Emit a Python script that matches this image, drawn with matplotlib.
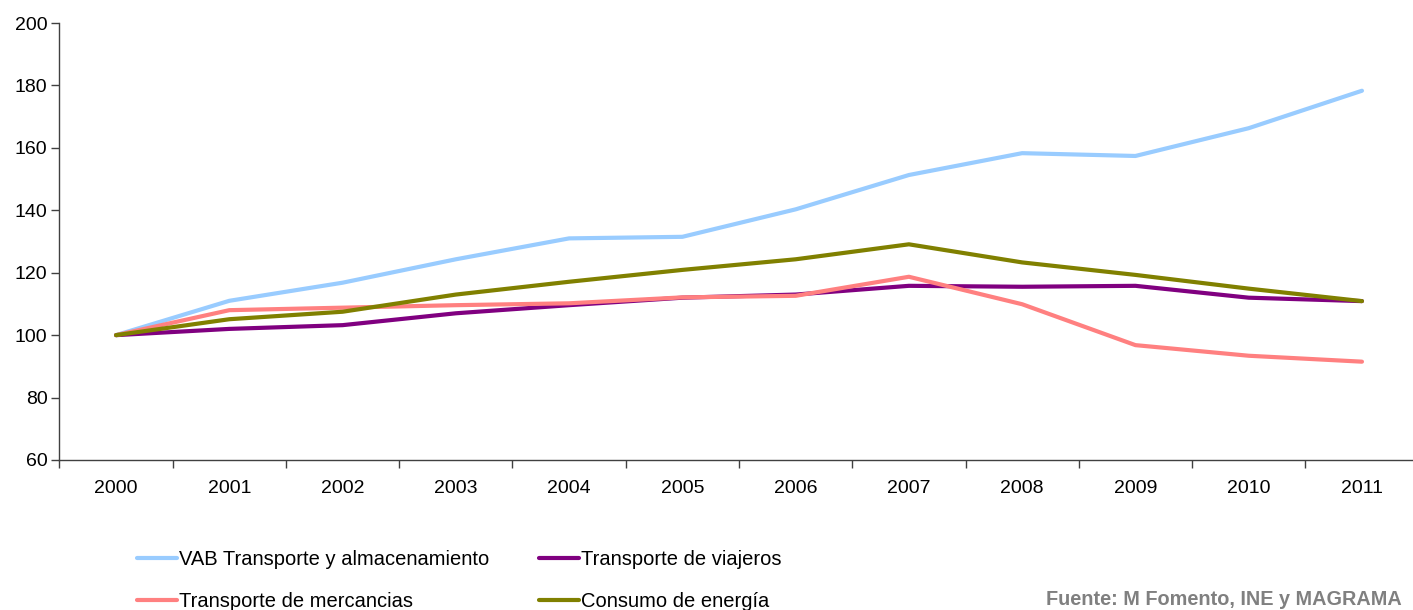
import numpy as np
import matplotlib.pyplot as plt

#%% data (index, 2000 = 100)
years = ["2000", "2001", "2002", "2003", "2004", "2005",
         "2006", "2007", "2008", "2009", "2010", "2011"]
vab = [100, 111.0, 116.8, 124.3, 131.0, 131.5, 140.3, 151.3, 158.3, 157.4, 166.3, 178.3]
viajeros = [100, 102.0, 103.2, 107.0, 109.6, 112.0, 113.0, 115.8, 115.5, 115.8, 112.0, 110.9]
mercancias = [100, 108.0, 108.8, 109.6, 110.2, 112.1, 112.6, 118.7, 109.9, 96.8, 93.4, 91.5]
energia = [100, 105.1, 107.5, 113.0, 117.1, 120.9, 124.3, 129.1, 123.3, 119.3, 114.9, 110.9]

labels = ["VAB Transporte y almacenamiento", "Transporte de viajeros",
          "Transporte de mercancias", "Consumo de energía"]
colors = ["#99CCFF", "#800080", "#FF8080", "#808000"]

plt.rcParams['font.family'] = ['Liberation Sans', 'DejaVu Sans']

#%% figure
fig = plt.figure(figsize=(14.13, 6.10), dpi=100)
ax = fig.add_axes([59.4 / 1413, 150 / 610, 1359.2 / 1413, 437 / 610])

x = np.arange(len(years))
lines = []
for series, lab, col in zip([vab, viajeros, mercancias, energia], labels, colors):
    ln, = ax.plot(x, series, color=col, lw=3.0, label=lab, solid_capstyle='round')
    lines.append(ln)

ax.set_xlim(-0.5, len(years) - 0.5)
ax.set_ylim(60, 200)
ax.set_yticks(np.arange(60, 201, 20))

# category labels between tick marks, like excel
ax.set_xticks(np.arange(-0.5, len(years), 1.0))
ax.set_xticklabels([])
ax.set_xticks(x, minor=True)
ax.set_xticklabels(years, minor=True)
ax.tick_params(axis='x', which='major', length=6, width=1, color='#404040', direction='out')
ax.tick_params(axis='x', which='minor', length=0, pad=14.5, labelsize=14)
ax.tick_params(axis='y', length=6, width=1, color='#404040', labelsize=14, pad=2.5)

for side in ['top', 'right']:
    ax.spines[side].set_visible(False)
for side in ['left', 'bottom']:
    ax.spines[side].set_color('#404040')
    ax.spines[side].set_linewidth(1.0)

# legend: two rows, two columns
order = [0, 2, 1, 3]
fig.legend([lines[i] for i in order], [labels[i] for i in order],
           loc='upper left', bbox_to_anchor=(137 / 1413, 0.099), ncol=2,
           frameon=False, fontsize=14.5, handlelength=2.0, handletextpad=0.1,
           columnspacing=2.45, labelspacing=1.15, borderpad=0, borderaxespad=0)

fig.text(1402 / 1413, 1 / 610, "Fuente: M Fomento, INE y MAGRAMA", ha='right', va='bottom',
         fontsize=14.3, fontweight='bold', color='#808080')

fig.savefig('out.png', dpi=100)
